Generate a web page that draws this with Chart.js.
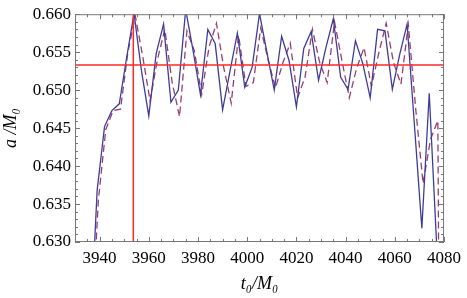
<!DOCTYPE html>
<html><head><meta charset="utf-8">
<script src="https://cdn.jsdelivr.net/npm/chart.js@4.4.0/dist/chart.umd.min.js"></script>
<style>html,body{margin:0;padding:0;background:#fff;overflow:hidden}#wrap{width:467px;height:298px;position:relative}</style>
</head><body><div id="wrap"><canvas id="c" width="467" height="298"></canvas></div>
<script>
const solidT = [3936,3939,3942,3945,3948,3951,3954,3957,3960,3963,3966,3969,3972,3975,3978,3981,3984,3987,3990,3993,3996,3999,4002,4005,4008,4011,4014,4017,4020,4023,4026,4029,4032,4035,4038,4041,4044,4047,4050,4053,4056,4059,4062,4065,4068,4071,4074,4077];
const solidA = [0.6166,0.6368,0.6452,0.6473,0.6482,0.6543,0.6601,0.6526,0.6466,0.6548,0.6587,0.6484,0.6500,0.6606,0.6552,0.6494,0.6580,0.6561,0.6474,0.6525,0.6575,0.6504,0.6530,0.6601,0.6550,0.6500,0.6571,0.6539,0.6478,0.6555,0.6577,0.6513,0.6556,0.6594,0.6517,0.6501,0.6565,0.6535,0.6490,0.6580,0.6578,0.6501,0.6547,0.6587,0.6453,0.6318,0.6496,0.6297];
const dashedT = [3936.5,3939.5,3942.5,3945.5,3948.5,3951.5,3954.5,3957.5,3960.5,3963.5,3966.5,3969.5,3972.5,3975.5,3978.5,3981.5,3984.5,3987.5,3990.5,3993.5,3996.5,3999.5,4002.5,4005.5,4008.5,4011.5,4014.5,4017.5,4020.5,4023.5,4026.5,4029.5,4032.5,4035.5,4038.5,4041.5,4044.5,4047.5,4050.5,4053.5,4056.5,4059.5,4062.5,4065.5,4068.5,4071.5,4074.5,4077.5,4080.5];
const dashedA = [0.6173,0.6355,0.6448,0.6473,0.6475,0.6550,0.6598,0.6545,0.6486,0.6540,0.6580,0.6510,0.6465,0.6578,0.6552,0.6494,0.6557,0.6588,0.6529,0.6483,0.6572,0.6505,0.6510,0.6582,0.6540,0.6503,0.6536,0.6562,0.6490,0.6517,0.6580,0.6536,0.6510,0.6590,0.6539,0.6490,0.6529,0.6556,0.6505,0.6549,0.6588,0.6536,0.6508,0.6586,0.6475,0.6377,0.6435,0.6460,0.4800];
const xTickLabels = [3940,3960,3980,4000,4020,4040,4060,4080];
const yTickLabels = [0.630,0.635,0.640,0.645,0.650,0.655,0.660];
const xMin = 3930, xMax = 4080, yMin = 0.630, yMax = 0.660;
const refT = 3953.7, refA = 0.6533;

const pts = (ts, as) => ts.map((t,i)=>({x:t, y:as[i]}));
const serif = "'Liberation Serif','DejaVu Serif',serif";

const framePlugin = {
  id:'frame',
  afterDatasetsDraw(chart){
    const {ctx, chartArea:a, scales:{x,y}} = chart;
    ctx.save();
    ctx.strokeStyle = '#777'; ctx.lineWidth = 1;
    ctx.strokeRect(a.left+0.5, a.top+0.5, a.right-a.left-1, a.bottom-a.top-1);
    ctx.beginPath();
    for (let v = xMin; v <= xMax; v += 5) {
      const len = (v % 20 === 0) ? 5 : 3;
      const px = Math.round(x.getPixelForValue(v)) + 0.5;
      ctx.moveTo(px, a.bottom); ctx.lineTo(px, a.bottom - len);
      ctx.moveTo(px, a.top); ctx.lineTo(px, a.top + len);
    }
    for (let i = 0; i <= 30; i++) {
      const v = yMin + i*0.001;
      const len = (i % 5 === 0) ? 5 : 3;
      const py = Math.round(y.getPixelForValue(v)) + 0.5;
      ctx.moveTo(a.left, py); ctx.lineTo(a.left + len, py);
      ctx.moveTo(a.right, py); ctx.lineTo(a.right - len, py);
    }
    ctx.stroke();
    ctx.restore();
  }
};

new Chart(document.getElementById('c'), {
  type:'scatter',
  data:{datasets:[
    {data:[{x:xMin,y:refA},{x:xMax,y:refA}], showLine:true, borderColor:'rgb(255,40,40)', borderWidth:1.5, pointRadius:0},
    {data:[{x:refT,y:yMin},{x:refT,y:yMax}], showLine:true, borderColor:'rgb(255,40,40)', borderWidth:1.5, pointRadius:0},
    {data:pts(solidT, solidA), showLine:true, borderColor:'#3d3d99', borderWidth:1.3, pointRadius:0, tension:0},
    {data:pts(dashedT, dashedA), showLine:true, borderColor:'#993d71', borderWidth:1.3, borderDash:[7,4], pointRadius:0, tension:0}
  ]},
  options:{
    responsive:false, animation:false, devicePixelRatio:1,
    layout:{padding:{left:0,right:17,top:11,bottom:0}},
    plugins:{legend:{display:false}, tooltip:{enabled:false}},
    scales:{
      x:{type:'linear', min:xMin, max:xMax,
        afterBuildTicks:s=>{s.ticks = xTickLabels.map(v=>({value:v}));},
        afterFit:s=>{s.height = 56;},
        grid:{display:false, drawTicks:false}, border:{display:false},
        ticks:{font:{family:serif,size:17}, color:'#000', padding:6, maxRotation:0, autoSkip:false, callback:v=>String(v)},
        title:{display:true, text:'t₀/M₀', font:{family:serif,size:18,style:'italic'}, color:'#000', padding:{top:0,bottom:3}}
      },
      y:{type:'linear', min:yMin, max:yMax,
        afterBuildTicks:s=>{s.ticks = yTickLabels.map(v=>({value:v}));},
        afterFit:s=>{s.width = 75;},
        grid:{display:false, drawTicks:false}, border:{display:false},
        ticks:{font:{family:serif,size:17}, color:'#000', padding:4, autoSkip:false, callback:v=>Number(v).toFixed(3)},
        title:{display:true, text:'a /M₀', font:{family:serif,size:18,style:'italic'}, color:'#000', padding:{top:0,bottom:0}}
      }
    }
  },
  plugins:[framePlugin]
});
</script></body></html>
